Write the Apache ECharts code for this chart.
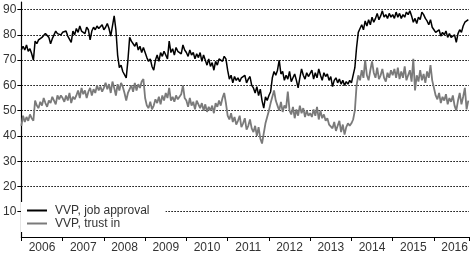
<!DOCTYPE html>
<html>
<head>
<meta charset="utf-8">
<script src="https://cdn.jsdelivr.net/npm/echarts@6/dist/echarts.min.js"></script>
<style>
  html, body { margin: 0; padding: 0; background: #fff; }
  #chart { width: 472px; height: 257px; }
</style>
</head>
<body>
<div id="chart"></div>
<script>
// two points per month, starting January 2006
var startYear = 2006;
var perYear = 24;
var years = ['2006','2007','2008','2009','2010','2011','2012','2013','2014','2015','2016'];
var yTicks = [10, 20, 30, 40, 50, 60, 70, 80, 90];

var seriesNames = ['VVP, job approval', 'VVP, trust in'];

var approval = [
    74, 75.5, 74, 76, 73.5, 74.5, 72.5, 70, 77.5, 76.5, 78, 77.5, 79, 78.5, 80.5, 81, 79, 76.5, 78.5, 80, 81.5, 80.5, 81, 80,          // 2006
    81, 80.5, 81.5, 79.5, 80, 77, 81.5, 80, 82.5, 81, 83.5, 81.5, 82, 80.5, 83, 82, 78, 81.5, 83, 82, 83.5, 82.5, 83, 84,              // 2007
    82, 83, 84.5, 82.5, 79.5, 80, 87.5, 82, 72, 67, 68, 65.5, 66, 63, 70, 79, 77.5, 78, 75.5, 77, 74, 75.5, 73, 75,                    // 2008
    73, 71, 69.5, 70.5, 67.5, 66, 70, 72, 69.5, 73, 71.5, 73.5, 72, 70.5, 77.5, 73, 74.5, 72, 75, 73.5, 74, 72.5, 76, 74,              // 2009
    73, 71.5, 74, 72, 73, 70.5, 72.5, 71, 73, 69.5, 72, 70, 68, 70.5, 67.5, 69, 66, 69.5, 68, 70.5, 71, 69.5, 71.5, 70.5,              // 2010
    66, 62.5, 64, 61, 63.5, 62, 63, 61.5, 63, 62.5, 64, 61, 62.5, 63.5, 60, 59, 57, 59.5, 56, 58.5, 54, 51, 55.5, 54,                  // 2011
    56, 57.5, 63, 65.5, 64, 66, 70, 64.5, 65.5, 62, 64, 62.5, 65.5, 61.5, 63, 64.5, 62, 59, 63, 66.5, 64, 62.5, 65, 63.5,              // 2012
    64, 66, 62.5, 65, 63, 66.5, 64, 62, 65, 63.5, 64.5, 62, 63.5, 59.5, 62, 63, 61, 62.5, 60.5, 62, 60, 61.5, 60.5, 62,                // 2013
    61, 60.5, 67, 75, 81, 82.5, 84, 82, 85.5, 83.5, 86, 84, 87, 85, 86.5, 88.5, 86, 87.5, 89.5, 87, 88, 86.5, 88.5, 87,                // 2014
    88, 86.5, 89, 87, 88.5, 86.5, 88, 87, 89, 88, 89.5, 87.5, 85, 86.5, 84.5, 87, 86, 89, 88, 86.5, 85.5, 84, 86, 83,                  // 2015
    82, 81, 80.5, 82, 79.5, 81, 80, 81.5, 79, 80.5, 79, 78.5, 80, 77, 80.5, 82, 81, 83.5, 85, 84.5, 86                                 // 2016
];

var trust = [
    44, 48, 45.5, 47.5, 46, 48.5, 47, 46, 54, 52, 51, 53.5, 52, 55, 53, 51.5, 54, 53, 55.5, 54, 52.5, 56, 54.5, 56,                    // 2006
    55, 53.5, 56, 54, 57, 53, 55.5, 54.5, 56, 58, 55, 59, 56.5, 58, 55, 57.5, 59, 56, 58.5, 57, 60, 58, 59.5, 57.5,                    // 2007
    59, 61, 58.5, 60.5, 57, 61.5, 59, 56, 60.5, 58, 61, 59.5, 57, 54, 57, 58.5, 60, 57.5, 61, 58, 60.5, 59, 61.5, 62.5,                // 2008
    55, 52, 51, 53.5, 50.5, 52, 54.5, 53, 55.5, 52.5, 56, 54, 57, 55, 59, 54, 55.5, 53.5, 56, 54.5, 55, 56.5, 60, 55,                  // 2009
    54, 51.5, 55, 52, 53.5, 50.5, 54, 52.5, 51, 53, 50, 52.5, 49.5, 51.5, 50, 52, 49, 53, 51.5, 54, 52, 55, 57, 53,                    // 2010
    48, 46.5, 49, 45.5, 47.5, 44.5, 46, 48, 43.5, 45, 47, 42.5, 44, 46.5, 43, 41.5, 44, 40, 43.5, 39, 37, 41, 45, 47.5,                // 2011
    50, 53, 55.5, 58, 54, 52, 50, 53.5, 49.5, 52, 51, 57.5, 50, 48.5, 51.5, 47, 50.5, 48, 52, 49, 51, 47.5, 50, 48,                    // 2012
    49, 47.5, 50.5, 48, 51.5, 46.5, 50, 47, 48.5, 46, 47, 44.5, 45, 43, 45.5, 42, 44, 46, 41.5, 44.5, 40.5, 43.5, 45, 44,              // 2013
    45, 46.5, 50, 60, 64, 62, 66, 63, 70, 64, 62, 66, 69.5, 65, 63, 67, 62.5, 64, 66.5, 63, 61.5, 65, 63, 66,                          // 2014
    64, 66.5, 63, 67, 62.5, 65.5, 63, 67.5, 62, 64, 66, 61.5, 70.5, 58, 64, 61.5, 66, 62, 64.5, 61, 65.5, 63, 68, 62,                  // 2015
    59, 56, 54.5, 57, 53, 55.5, 54, 56.5, 52.5, 55, 53.5, 56, 52, 50, 54, 57, 52.5, 55.5, 59, 50.5, 54                                 // 2016
];

var xMax = 2016.85;

function toPairs(values) {
    var out = [];
    for (var i = 0; i < values.length; i++) {
        out.push([startYear + i / perYear, values[i]]);
    }
    return out;
}

// ticks on year boundaries, labels in the middle of each year
var yearTicks = [];
var yearLabelPos = [];
for (var k = 0; k < years.length; k++) {
    yearTicks.push(Number(years[k]));
    yearLabelPos.push(Number(years[k]) + 0.5);
}
yearTicks.push(xMax);

var font = 'Liberation Sans';
var chart = echarts.init(document.getElementById('chart'));
chart.setOption({
    animation: false,
    backgroundColor: '#fff',
    grid: { left: 20, right: 3, top: 2, bottom: 20, containLabel: false },
    legend: {
        orient: 'vertical',
        left: 21,
        top: 202,
        padding: [2, 16, 2, 6],
        backgroundColor: '#fff',
        itemWidth: 20,
        itemHeight: 2,
        itemGap: 0,
        icon: 'rect',
        data: seriesNames,
        textStyle: { fontFamily: font, fontSize: 12, color: '#333', lineHeight: 13, padding: [0, 0, 0, 3] }
    },
    xAxis: {
        type: 'value',
        min: startYear,
        max: xMax,
        interval: 1,
        axisLine: { show: true, lineStyle: { color: '#000', width: 1.2 } },
        axisTick: { show: true, length: 4, customValues: yearTicks, lineStyle: { color: '#000' } },
        axisLabel: {
            customValues: yearLabelPos,
            margin: 5,
            fontFamily: font, fontSize: 12, color: '#333',
            formatter: function (v) { return String(Math.floor(v)); }
        },
        splitLine: { show: false }
    },
    yAxis: {
        type: 'value',
        min: 0,
        max: 93,
        interval: 10,
        axisLine: { show: true, lineStyle: { color: '#000', width: 1.2 } },
        axisTick: { show: true, length: 4, customValues: yTicks, lineStyle: { color: '#000' } },
        axisLabel: {
            customValues: yTicks,
            margin: 5,
            fontFamily: font, fontSize: 12, color: '#333'
        },
        splitLine: {
            show: true,
            lineStyle: { color: '#000', width: 1, type: [1.5, 1.5] }
        }
    },
    series: [
        {
            name: seriesNames[0],
            type: 'line',
            data: toPairs(approval),
            showSymbol: false,
            z: 3,
            lineStyle: { color: '#000', width: 1.5 },
            itemStyle: { color: '#000' }
        },
        {
            name: seriesNames[1],
            type: 'line',
            data: toPairs(trust),
            showSymbol: false,
            z: 2,
            lineStyle: { color: '#7a7a7a', width: 1.8 },
            itemStyle: { color: '#7a7a7a' }
        }
    ]
});
</script>
</body>
</html>
